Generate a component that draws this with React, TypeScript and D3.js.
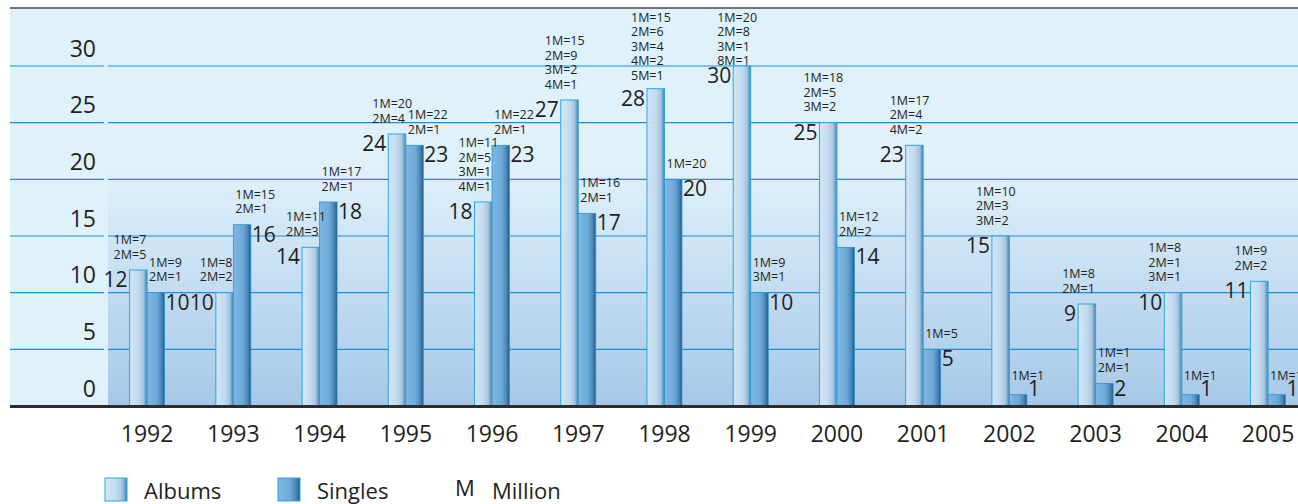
import React from "react";
import * as d3 from "d3";

const years = ["1992","1993","1994","1995","1996","1997","1998","1999","2000","2001","2002","2003","2004","2005"];
const albums = [12,10,14,24,18,27,28,30,25,23,15,9,10,11];
const singles = [10,16,18,23,23,17,20,10,14,5,1,2,1,1];
const albumNotes = [
  ["1M=7","2M=5"],
  ["1M=8","2M=2"],
  ["1M=11","2M=3"],
  ["1M=20","2M=4"],
  ["1M=11","2M=5","3M=1","4M=1"],
  ["1M=15","2M=9","3M=2","4M=1"],
  ["1M=15","2M=6","3M=4","4M=2","5M=1"],
  ["1M=20","2M=8","3M=1","8M=1"],
  ["1M=18","2M=5","3M=2"],
  ["1M=17","2M=4","4M=2"],
  ["1M=10","2M=3","3M=2"],
  ["1M=8","2M=1"],
  ["1M=8","2M=1","3M=1"],
  ["1M=9","2M=2"],
];
const singleNotes = [
  ["1M=9","2M=1"],
  ["1M=15","2M=1"],
  ["1M=17","2M=1"],
  ["1M=22","2M=1"],
  ["1M=22","2M=1"],
  ["1M=16","2M=1"],
  ["1M=20"],
  ["1M=9","3M=1"],
  ["1M=12","2M=2"],
  ["1M=5"],
  ["1M=1"],
  ["1M=1","2M=1"],
  ["1M=1"],
  ["1M=1"],
];
const yTicks = [0,5,10,15,20,25,30];
const legendItems = ["Albums","Singles"];

const W = 1298, H = 504;
const FONT = "'Open Sans', 'Noto Sans', sans-serif";
const TXT = "#231f20";

export default function App() {
  const x = d3.scaleBand<string>().domain(years).range([104, 1311.2]).padding(0);
  const y = d3.scaleLinear().domain([0, 30]).range([406, 66]);
  const bw = 17.5;
  const lh = 14.5;

  return (
    <svg width={W} height={H} style={{ position: "absolute", left: 0, top: 0, display: "block" }}>
      <defs>
        <linearGradient id="plotBg" gradientUnits="userSpaceOnUse" x1={0} y1={170} x2={0} y2={406}>
          <stop offset="0" stopColor="#dff1fb" />
          <stop offset="1" stopColor="#a6c8e7" />
        </linearGradient>
        <linearGradient id="albGrad" x1="0" y1="0" x2="1" y2="0">
          <stop offset="0" stopColor="#d3e6f5" />
          <stop offset="0.5" stopColor="#c2daef" />
          <stop offset="0.78" stopColor="#a7c5e1" />
          <stop offset="1" stopColor="#4a82b0" />
        </linearGradient>
        <linearGradient id="sngGrad" x1="0" y1="0" x2="1" y2="0">
          <stop offset="0" stopColor="#7db8e3" />
          <stop offset="0.55" stopColor="#6eaad9" />
          <stop offset="0.82" stopColor="#4a86b7" />
          <stop offset="1" stopColor="#1d5b88" />
        </linearGradient>
      </defs>

      {/* background panels */}
      <rect x={10} y={9} width={W - 10} height={397} fill="#dff1fb" />
      <rect x={108} y={9} width={W - 108} height={397} fill="url(#plotBg)" />
      <line x1={10} x2={W} y1={8} y2={8} stroke="#444" strokeWidth={1.6} />

      {/* gridlines */}
      {yTicks.filter(t => t > 0).map(t => (
        <g key={"g" + t}>
          <line x1={10} x2={104} y1={y(t)} y2={y(t)} stroke="#1d8fd6" strokeWidth={1.2} />
          <line x1={108} x2={W} y1={y(t)} y2={y(t)} stroke="#1d8fd6" strokeWidth={1.2} />
        </g>
      ))}

      {/* y tick labels */}
      {yTicks.map(t => (
        <text key={"yt" + t} x={96} y={y(t) - 9.5} textAnchor="end" fontFamily={FONT} fontSize={23} fill={TXT}>{t}</text>
      ))}

      {/* bars */}
      {years.map((yr, i) => {
        const c = (x(yr) as number) + x.bandwidth() / 2;
        const aTop = y(albums[i]);
        const sTop = y(singles[i]);
        const aLeft = c - bw;
        const sLeft = c;
        const aNotes = albumNotes[i];
        const sNotes = singleNotes[i];
        let aLast = aTop - 16;
        const aFirst = aLast - (aNotes.length - 1) * lh;
        if (aFirst < 17) aLast += 17 - aFirst;
        const sLast = Math.min(sTop - 16, 375);
        return (
          <g key={yr}>
            <rect x={aLeft} y={aTop} width={bw} height={406 - aTop} fill="url(#albGrad)" stroke="#2aa7e0" strokeWidth={1} />
            <rect x={sLeft} y={sTop} width={bw} height={406 - sTop} fill="url(#sngGrad)" stroke="#2f95d2" strokeWidth={0.8} />
            <text x={aLeft - 2} y={aTop + 17} textAnchor="end" fontFamily={FONT} fontSize={21} fill={TXT}>{albums[i]}</text>
            <text x={sLeft + bw + 1} y={Math.min(sTop + 17, 396)} fontFamily={FONT} fontSize={21} fill={TXT}>{singles[i]}</text>
            {aNotes.map((n, k) => (
              <text key={"a" + k} x={aLeft - 16} y={aLast - (aNotes.length - 1 - k) * lh + 4.5} fontFamily={FONT} fontSize={12.5} fill={TXT}>{n}</text>
            ))}
            {sNotes.map((n, k) => (
              <text key={"s" + k} x={sLeft + 2} y={sLast - (sNotes.length - 1 - k) * lh + 4.5} fontFamily={FONT} fontSize={12.5} fill={TXT}>{n}</text>
            ))}
          </g>
        );
      })}

      {/* baseline */}
      <line x1={10} x2={W} y1={406.5} y2={406.5} stroke="#2d2d2d" strokeWidth={3} />

      {/* x labels */}
      {years.map(yr => (
        <text key={"x" + yr} x={(x(yr) as number) + x.bandwidth() / 2} y={442} textAnchor="middle" fontFamily={FONT} fontSize={23} fill={TXT}>{yr}</text>
      ))}

      {/* legend */}
      {legendItems.map((lab, i) => {
        const lx = i === 0 ? 105 : 278;
        return (
          <g key={lab}>
            <rect x={lx} y={478} width={22} height={23} fill={i === 0 ? "url(#albGrad)" : "url(#sngGrad)"} stroke="#2aa7e0" strokeWidth={1} />
            <text x={lx + 39} y={499} fontFamily={FONT} fontSize={22} fill={TXT}>{lab}</text>
          </g>
        );
      })}
      <text x={455} y={496} fontFamily={FONT} fontSize={22} fill={TXT}>M</text>
      <text x={492} y={499} fontFamily={FONT} fontSize={22} fill={TXT}>Million</text>
    </svg>
  );
}
